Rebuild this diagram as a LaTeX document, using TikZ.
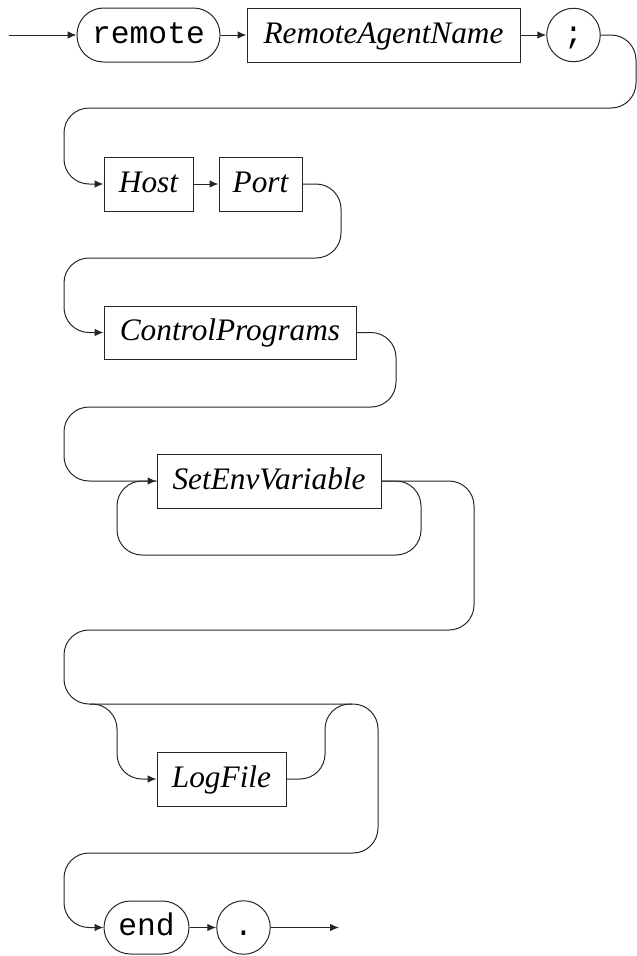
\documentclass[tikz,border=0pt]{standalone}
\usepackage{fontspec}
\setmainfont{Liberation Serif}
\setmonofont{Liberation Mono}
\usetikzlibrary{arrows.meta}
\begin{document}
\begin{tikzpicture}[x=1pt,y=-1pt,
  line width=1pt,
  ntbox/.style={draw=black!85, rectangle, inner sep=0pt, minimum height=54pt,
    text height=22pt, text depth=6pt,
    font=\fontsize{31.3}{36}\selectfont\itshape},
  tbox/.style={draw=black!85, rectangle, rounded corners=26.5pt, inner sep=0pt, minimum height=54pt,
    text height=22pt, text depth=6pt,
    font=\fontsize{31.3}{36}\selectfont\ttfamily},
  tcirc/.style={draw=black!85, circle, inner sep=0pt, minimum size=53.5pt,
    text height=22pt, text depth=6pt,
    font=\fontsize{31.3}{36}\selectfont\ttfamily},
  conn/.style={draw=black!85, rounded corners=25pt},
  arr/.style={conn, -{Latex[length=9pt,width=7.5pt]}}]
\useasboundingbox (0,0) rectangle (637,956);
% row 1
\coordinate (start) at (9,35);
\node[tbox, minimum width=143pt] (remote) at (148.5,35) {remote};
\node[ntbox, minimum width=273pt] (ran) at (383.5,35) {RemoteAgentName};
\node[tcirc] (semi) at (573.5,35) {;};
% row 2
\node[ntbox, minimum width=89pt] (host) at (148.5,184) {Host};
\node[ntbox, minimum width=83pt] (port) at (260.5,184) {Port};
% row 3
\node[ntbox, minimum width=252pt, minimum height=53pt] (cp) at (230,332.5) {ControlPrograms};
% row 4
\node[ntbox, minimum width=224pt] (sev) at (269,481) {SetEnvVariable};
% row 5
\node[ntbox, minimum width=129pt] (log) at (221.5,779) {LogFile};
% row 6
\node[tbox, minimum width=85pt, minimum height=53pt] (endk) at (146.5,927.5) {end};
\node[tcirc] (dot) at (243.5,927.5) {.};
\coordinate (exit) at (339,927.5);
\coordinate (lfb) at (90,704);

\draw[arr] (start) -- (remote);
\draw[arr] (remote) -- (ran);
\draw[arr] (ran) -- (semi);
\draw[arr] (semi.east) -- (636,35) -- (636,108) -- (64,108) -- (64,184) -- (host.west);
\draw[arr] (host) -- (port);
\draw[arr] (port.east) -- (341,184) -- (341,258) -- (64,258) -- (64,332.5) -- (cp.west);
\draw[arr] (cp.east) -- (396,332.5) -- (396,407) -- (64,407) -- (64,481) -- (sev.west);
\draw[conn] (sev.east) -- (421,481) -- (421,555) -- (117,555) -- (117,481) -- (sev.west);
\draw[arr] (sev.east) -- (474,481) -- (474,630) -- (64,630) -- (64,704) -- (378,704)
  -- (378,853) -- (64,853) -- (64,927.5) -- (endk.west);
\draw[arr] (lfb) -- (117,704) -- (117,779) -- (log.west);
\draw[conn] (log.east) -- (325,779) -- (325,704) -- (352,704);
\draw[arr] (endk) -- (dot);
\draw[arr] (dot) -- (exit);
\end{tikzpicture}
\end{document}
